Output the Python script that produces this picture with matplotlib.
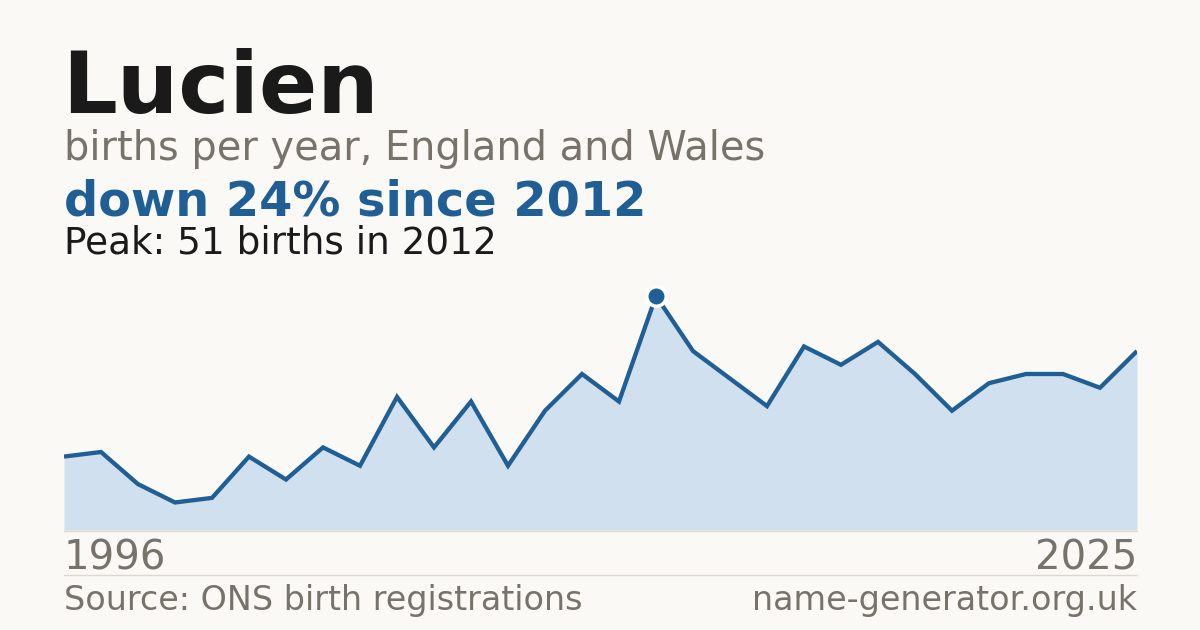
import numpy as np
from matplotlib import pyplot as plt
from matplotlib.lines import Line2D

plt.rcParams['font.family'] = ['DejaVu Sans']

years = list(range(1996, 2026))
births = [16, 17, 10, 6, 7, 16, 11, 18, 14, 29,
          18, 28, 14, 26, 34, 28, 51, 39, 33, 27,
          40, 36, 41, 34, 26, 32, 34, 34, 31, 39]

name = "Lucien"
subtitle = "births per year, England and Wales"
headline = "down 24% since 2012"
peak_note = "Peak: 51 births in 2012"
source = "Source: ONS birth registrations"
site = "name-generator.org.uk"

bg = "#faf9f5"
blue = "#1f5f96"
fill = "#d0e0ef"
grey = "#77736b"
dark = "#1a1a1a"
rule = "#ddd8cf"

W, H = 1200, 630
fig = plt.figure(figsize=(W / 100, H / 100), dpi=100, facecolor=bg)


def fx(px):
    return px / W


def fy(px):
    return 1 - px / H


left, right, bottom, top = 64, 1137, 530, 296
ax = fig.add_axes([fx(left), fy(bottom), fx(right - left), (bottom - top) / H])
ax.set_facecolor(bg)
ax.fill_between(years, births, 0, color=fill, lw=0)
ax.plot(years, births, color=blue, lw=3.1, solid_joinstyle="miter", solid_capstyle="butt")
peak_i = int(np.argmax(births))
ax.plot(years[peak_i], births[peak_i], "o", ms=14, color=blue, mec="white", mew=2.5,
        clip_on=False, zorder=5)
ax.set_xlim(years[0], years[-1])
ax.set_ylim(0, max(births))
ax.axis("off")

# rules
fig.add_artist(Line2D([fx(left), fx(right)], [fy(530.5), fy(530.5)], color=rule, lw=1))
fig.add_artist(Line2D([fx(left), fx(right)], [fy(574.5), fy(574.5)], color=rule, lw=1))

fig.text(fx(62), fy(113), name, fontsize=62, fontweight="bold", color=dark, va="baseline")
fig.text(fx(64), fy(160), subtitle, fontsize=28.75, color=grey, va="baseline")
fig.text(fx(64), fy(215), headline, fontsize=34.5, fontweight="bold", color=blue, va="baseline")
fig.text(fx(64), fy(253), peak_note, fontsize=26.9, color=dark, va="baseline")
fig.text(fx(64), fy(569), str(years[0]), fontsize=29, color=grey, va="baseline")
fig.text(fx(1137), fy(569), str(years[-1]), fontsize=29, color=grey, va="baseline", ha="right")
fig.text(fx(64), fy(610), source, fontsize=24, color=grey, va="baseline")
fig.text(fx(1137), fy(610), site, fontsize=24, color=grey, va="baseline", ha="right")

fig.savefig("out.png", dpi=100, facecolor=bg)
